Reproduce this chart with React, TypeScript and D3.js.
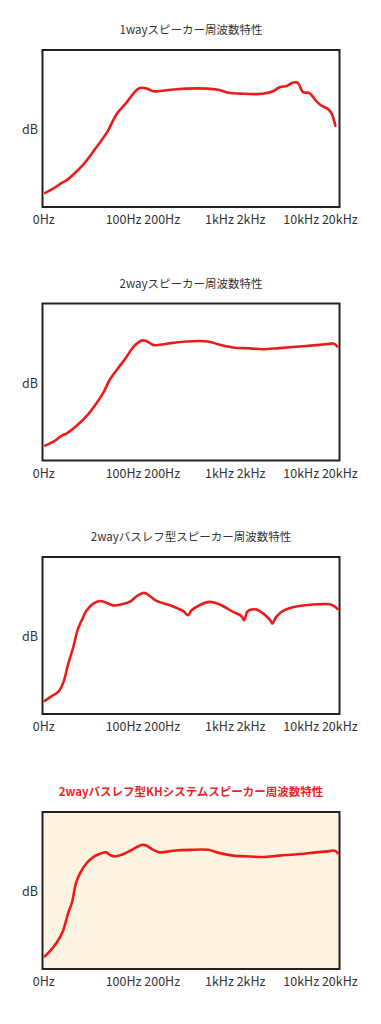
import React from "react";
import * as d3 from "d3";

// x: relative position along the frequency axis (0..100), y: relative level (0..100)
const titles = [
  "1wayスピーカー周波数特性",
  "2wayスピーカー周波数特性",
  "2wayバスレフ型スピーカー周波数特性",
  "2wayバスレフ型KHシステムスピーカー周波数特性",
];

const tickLabels = ["0Hz", "100Hz 200Hz", "1kHz 2kHz", "10kHz 20kHz"];
const tickAt = [0.4, 33.8, 64.9, 93.6];
const yLabel = "dB";

const series1: [number, number][] = [
  [0.9, 9.0], [3.7, 11.8], [6.5, 15.4], [8.2, 17.1], [10.4, 20.8], [13.8, 27.2],
  [17.7, 36.9], [21.7, 47.5], [25.0, 59.3], [28.4, 66.8], [30.6, 72.2], [32.3, 75.4],
  [33.5, 76.0], [35.1, 75.4], [37.4, 73.7], [39.6, 73.9], [44.1, 74.8], [48.6, 75.4],
  [55.4, 75.4], [58.7, 74.8], [63.2, 72.6], [66.6, 72.2], [72.2, 71.9], [75.6, 72.6],
  [77.8, 73.9], [80.0, 76.4], [82.3, 77.1], [84.0, 79.0], [85.4, 79.4], [86.2, 78.6],
  [87.7, 73.2], [89.9, 72.6], [91.8, 68.3], [93.5, 65.1], [96.3, 62.1], [97.4, 59.3],
  [98.6, 51.8],
];

const series2: [number, number][] = [
  [0.9, 9.5], [3.7, 12.0], [6.5, 15.8], [8.2, 17.3], [11.5, 22.1], [14.9, 28.4],
  [18.3, 36.8], [20.5, 43.2], [22.7, 51.6], [25.5, 58.9], [27.8, 64.6], [30.0, 70.9],
  [31.7, 74.3], [33.4, 76.4], [34.8, 76.2], [36.2, 74.7], [37.5, 73.5], [39.5, 73.7],
  [44.0, 74.9], [48.5, 75.8], [55.8, 75.8], [59.7, 73.7], [64.2, 72.0], [69.8, 71.4],
  [74.2, 70.9], [79.8, 71.6], [86.6, 72.6], [92.2, 73.5], [96.6, 74.3], [97.8, 74.5],
  [98.7, 73.7], [99.2, 72.6],
];

const series3: [number, number][] = [
  [0.7, 8.3], [3.1, 11.4], [5.4, 14.2], [7.1, 20.6], [8.7, 32.2], [10.4, 42.8],
  [11.8, 53.4], [13.2, 59.7], [14.9, 66.1], [17.1, 70.3], [19.4, 72.0], [21.6, 70.8],
  [24.1, 69.1], [26.7, 69.9], [29.5, 71.6], [31.7, 75.0], [33.9, 77.1], [35.0, 76.7],
  [38.4, 72.0], [42.9, 69.3], [47.4, 65.5], [49.0, 62.9], [50.2, 66.1], [52.9, 69.3],
  [56.3, 71.4], [59.7, 69.7], [64.2, 65.0], [67.0, 62.3], [67.9, 59.7], [68.9, 65.0],
  [70.4, 66.5], [72.0, 66.5], [75.4, 62.3], [76.7, 59.7], [77.4, 57.6], [78.7, 61.9],
  [81.0, 65.7], [84.3, 68.0], [88.8, 69.3], [93.3, 69.9], [96.6, 69.9], [98.3, 68.6],
  [99.4, 66.9],
];

const series4: [number, number][] = [
  [0.7, 8.0], [2.6, 11.6], [4.8, 16.9], [6.8, 23.8], [8.7, 35.9], [9.9, 42.2],
  [11.3, 54.9], [12.7, 61.2], [14.9, 67.5], [17.1, 71.3], [19.4, 73.4], [21.4, 74.3],
  [22.8, 72.6], [24.4, 71.7], [26.7, 72.8], [29.5, 75.3], [31.7, 77.6], [33.7, 79.1],
  [35.1, 78.5], [37.3, 75.9], [39.5, 74.3], [44.0, 75.3], [49.6, 75.9], [55.8, 75.9],
  [59.7, 73.8], [64.2, 72.2], [69.8, 71.7], [74.2, 71.3], [79.8, 72.2], [86.6, 73.2],
  [92.2, 74.3], [96.6, 75.1], [97.8, 75.5], [98.7, 75.1], [99.4, 73.8],
];

const allSeries = [series1, series2, series3, series4];
const highlight = [false, false, false, true];

const W = 381;
const H = 1024;
const boxLeft = 42.5;
const boxRight = 339.5;
const boxTops = [50, 303.5, 557, 812];
const boxH = 157;
const FONT = "'Noto Sans CJK JP', 'Noto Sans', sans-serif";

function Panel({ idx }: { idx: number }) {
  const top = boxTops[idx];
  const bottom = top + boxH;
  const x = d3.scaleLinear().domain([0, 100]).range([boxLeft, boxRight]);
  const y = d3.scaleLinear().domain([0, 100]).range([bottom, top]);
  const line = d3
    .line<[number, number]>()
    .x((d) => x(d[0]))
    .y((d) => y(d[1]))
    .curve(d3.curveCatmullRom.alpha(0.5));
  const hi = highlight[idx];
  return (
    <g>
      <text
        x={(boxLeft + boxRight) / 2}
        y={top - 21}
        textAnchor="middle"
        dominantBaseline="central"
        fontFamily={FONT}
        fontSize={11.5}
        fontWeight={hi ? 700 : 400}
        fill={hi ? "#e8262a" : "#333"}
      >
        {titles[idx]}
      </text>
      <rect
        x={boxLeft}
        y={top}
        width={boxRight - boxLeft}
        height={boxH}
        fill={hi ? "#fdf3e1" : "#fff"}
        stroke="#222"
        strokeWidth={2}
      />
      <path
        d={line(allSeries[idx]) || ""}
        fill="none"
        stroke="#ee1a1a"
        strokeWidth={2.6}
        strokeLinecap="round"
        strokeLinejoin="round"
      />
      <text
        x={22}
        y={(top + bottom) / 2}
        dominantBaseline="central"
        fontFamily={FONT}
        fontSize={12.5}
        fill="#333"
      >
        {yLabel}
      </text>
      {tickLabels.map((t, i) => (
        <text
          key={t}
          x={x(tickAt[i])}
          y={bottom + 11.5}
          textAnchor="middle"
          dominantBaseline="central"
          fontFamily={FONT}
          fontSize={12.5}
          fill="#333"
        >
          {t}
        </text>
      ))}
    </g>
  );
}

export default function App() {
  return (
    <svg
      width={W}
      height={H}
      viewBox={`0 0 ${W} ${H}`}
      style={{ position: "absolute", left: 0, top: 0, background: "#fff" }}
    >
      {titles.map((_, i) => (
        <Panel key={i} idx={i} />
      ))}
    </svg>
  );
}
